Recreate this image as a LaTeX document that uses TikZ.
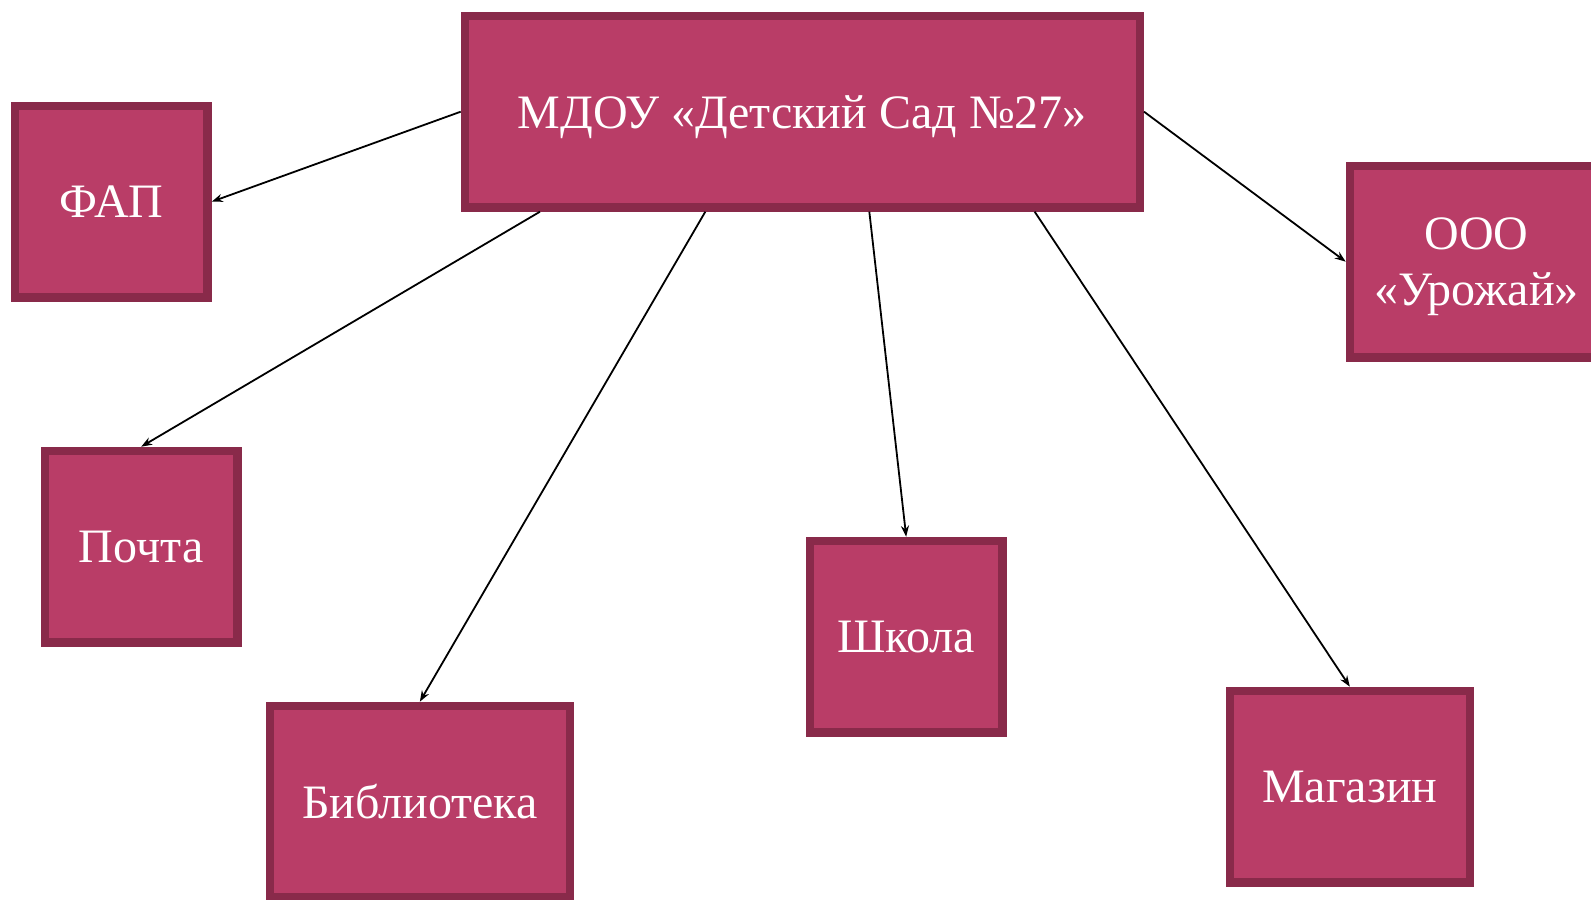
\documentclass[tikz,border=0pt]{standalone}
\usepackage{fontspec}
\setmainfont{Liberation Serif}
\usetikzlibrary{arrows.meta,calc}
\definecolor{boxfill}{RGB}{185,61,103}
\definecolor{boxline}{RGB}{137,42,74}
\tikzset{
  orgbox/.style={draw=boxline, fill=boxfill, line width=8.3bp, text=white,
    font=\fontsize{48bp}{56bp}\selectfont, align=center, inner sep=0pt,
    text depth=0pt, minimum height=191.7bp},
  link/.style={draw=black, line width=1.8bp, -{Stealth[length=11bp,width=8bp]}}
}
\begin{document}
\begin{tikzpicture}[x=1bp,y=-1bp]
\useasboundingbox[fill=white] (0,0) rectangle (1591,899);
\node[orgbox, minimum width=675bp] (top) at (802.35,111.7) {МДОУ «Детский Сад №27»};
\node[orgbox, minimum width=192.7bp] (fap) at (111.2,201.7) {ФАП};
\node[orgbox, minimum width=192.7bp] (post) at (141.2,546.7) {Почта};
\node[orgbox, minimum width=300bp] (lib) at (419.85,801.7) {Библиотека};
\node[orgbox, minimum width=192.7bp] (school) at (906.2,636.7) {Школа};
\node[orgbox, minimum width=240bp] (shop) at (1349.85,786.7) {Магазин};
\node[orgbox, minimum width=253.3bp] (ooo) at (1476.5,261.7) {ООО\\«Урожай»};
\draw[link] (top.west) -- (fap.east);
\draw[link] ($(top.south west)!0.116!(top.south east)$) -- (post.north);
\draw[link] ($(top.south west)!0.358!(top.south east)$) -- (lib.north);
\draw[link] ($(top.south west)!0.598!(top.south east)$) -- (school.north);
\draw[link] ($(top.south west)!0.840!(top.south east)$) -- (shop.north);
\draw[link] (top.east) -- (ooo.west);
\end{tikzpicture}
\end{document}
